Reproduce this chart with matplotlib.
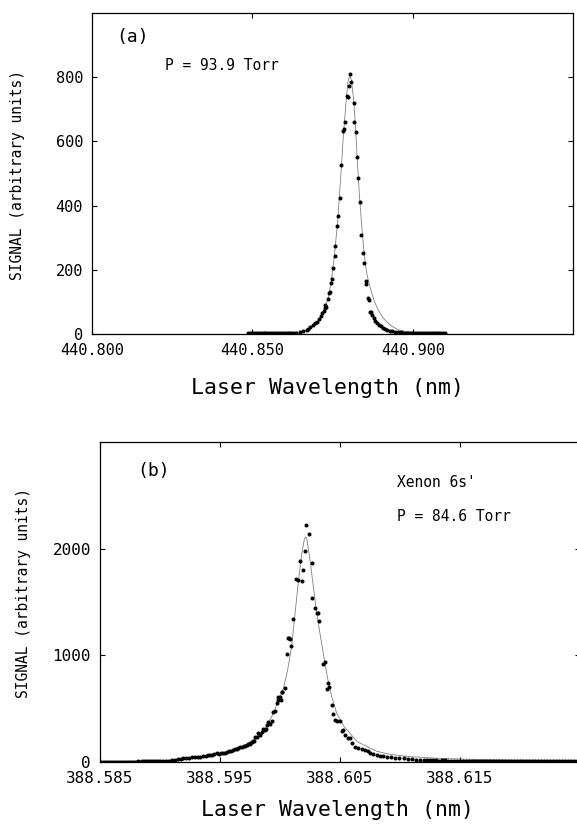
import matplotlib
matplotlib.use("Agg")
import matplotlib.pyplot as plt

# ---------------- Panel (a) data ----------------
a_wl = [440.8487, 440.8493, 440.8499, 440.8505, 440.8511, 440.8517, 440.8523, 440.8529,
        440.8535, 440.8541, 440.8547, 440.8553, 440.8559, 440.8565, 440.8571, 440.8577,
        440.8583, 440.8589, 440.8595, 440.8601, 440.8607, 440.8613, 440.8619, 440.8625,
        440.8631, 440.8637,
        440.8650, 440.8659, 440.8669, 440.8675, 440.8681, 440.8688, 440.8694, 440.8702,
        440.8708, 440.8713, 440.8718, 440.8722, 440.8726, 440.8728, 440.8731, 440.8737,
        440.8738, 440.8742, 440.8744, 440.8749, 440.8752, 440.8757, 440.8759, 440.8765,
        440.8766, 440.8772, 440.8775, 440.8783, 440.8786, 440.8788, 440.8796, 440.8798,
        440.8801, 440.8804, 440.8808, 440.8818, 440.8817, 440.8822, 440.8825, 440.8830,
        440.8835, 440.8838, 440.8845, 440.8849, 440.8853, 440.8855, 440.8862, 440.8864,
        440.8868, 440.8869, 440.8874, 440.8879, 440.8884, 440.8890, 440.8895, 440.8900,
        440.8906, 440.8913, 440.8921, 440.8928, 440.8936, 440.8944, 440.8953, 440.8963,
        440.8969, 440.8975, 440.8981, 440.8987, 440.8993, 440.8999, 440.9005, 440.9011,
        440.9017, 440.9023, 440.9029, 440.9035, 440.9041, 440.9047, 440.9053, 440.9059,
        440.9065, 440.9071, 440.9077, 440.9083, 440.9089, 440.9095, 440.9101]
a_sig = [3, 2, 3, 2, 2, 3, 2, 3, 2, 3, 3, 2, 3, 3, 2, 3, 3, 3, 2, 3, 3, 4, 3, 3, 4, 4,
         5, 8, 12, 17, 23, 28, 33, 38, 46, 55, 64, 72, 80, 90, 85, 108,
         127, 130, 158, 170, 207, 243, 275, 337, 369, 423, 525, 632, 640, 659, 741, 738,
         774, 810, 786, 719, 661, 630, 552, 485, 410, 309, 253, 220, 166, 155, 113, 106,
         69, 70, 58, 49, 40, 33, 28, 24, 20, 16, 12, 10, 8, 7, 6, 5,
         4, 4, 3, 4, 3, 3, 4, 3, 3, 3, 4, 3, 3, 3, 3, 4, 3, 3, 3, 3, 4, 3, 3]

a_fit_wl = [440.8487, 440.8572, 440.8619, 440.8650, 440.8669, 440.8681, 440.8694, 440.8706,
            440.8719, 440.8728, 440.8738, 440.8747, 440.8756, 440.8766, 440.8775, 440.8784,
            440.8792, 440.8798, 440.8804, 440.8809, 440.8816, 440.8822, 440.8828, 440.8834,
            440.8841, 440.8847, 440.8853, 440.8858, 440.8864, 440.8871, 440.8879, 440.8891,
            440.8905, 440.8919, 440.8937, 440.8956, 440.8983, 440.9025, 440.9103]
a_fit_sig = [2, 3, 4, 6, 11, 17, 27, 42, 63, 85, 118, 170, 245, 350, 480, 620,
             720, 785, 805, 790, 730, 640, 530, 430, 340, 270, 215, 183, 158, 132, 106, 78,
             54, 38, 23, 13, 7, 4, 2]

# ---------------- Panel (b) data ----------------
b_wl = [388.58500, 388.58517, 388.58533, 388.58550, 388.58567, 388.58583, 388.58600, 388.58617,
        388.58633, 388.58650, 388.58667, 388.58683, 388.58700, 388.58717, 388.58733, 388.58750,
        388.58767, 388.58783, 388.58800, 388.58817, 388.58833, 388.58850, 388.58867, 388.58883,
        388.58900, 388.58917, 388.58933, 388.58950, 388.58967, 388.58983, 388.59000,
        388.59025, 388.59050, 388.59075, 388.59100, 388.59125, 388.59150, 388.59175, 388.59194,
        388.59217, 388.59242, 388.59267, 388.59292, 388.59317, 388.59333, 388.59358, 388.59383,
        388.59400, 388.59417, 388.59433, 388.59450, 388.59472, 388.59492, 388.59508, 388.59525,
        388.59542, 388.59556, 388.59575, 388.59592, 388.59611, 388.59625, 388.59642, 388.59654,
        388.59667, 388.59683, 388.59696, 388.59708, 388.59722, 388.59733, 388.59746, 388.59754,
        388.59764, 388.59775, 388.59783, 388.59792, 388.59806, 388.59819, 388.59833, 388.59847,
        388.59861, 388.59871, 388.59883, 388.59889, 388.59903, 388.59917, 388.59936, 388.59944,
        388.59958, 388.59972, 388.59981, 388.59986, 388.60000, 388.60006, 388.60014, 388.60019,
        388.60039, 388.60056, 388.60064, 388.60075, 388.60083, 388.60094, 388.60111, 388.60133,
        388.60153, 388.60164, 388.60181, 388.60194, 388.60208, 388.60217, 388.60239, 388.60267,
        388.60270, 388.60294, 388.60306, 388.60319, 388.60328, 388.60361, 388.60375, 388.60389,
        388.60403, 388.60411, 388.60431, 388.60439, 388.60458, 388.60478, 388.60500, 388.60514,
        388.60521, 388.60542, 388.60564, 388.60583, 388.60597, 388.60625, 388.60653, 388.60681,
        388.60708, 388.60736, 388.60753, 388.60775, 388.60808, 388.60833, 388.60858, 388.60892,
        388.60925, 388.60958, 388.60992, 388.61031, 388.61067, 388.61100, 388.61133, 388.61169,
        388.61200, 388.61225, 388.61250, 388.61275, 388.61300, 388.61325, 388.61350, 388.61375,
        388.61400, 388.61425, 388.61450, 388.61475, 388.61500, 388.61525, 388.61550, 388.61575,
        388.61600, 388.61625, 388.61650, 388.61675, 388.61700, 388.61725, 388.61750, 388.61775,
        388.61800, 388.61825, 388.61850, 388.61875, 388.61900, 388.61925, 388.61950, 388.61975,
        388.62000, 388.62025, 388.62050, 388.62075, 388.62100, 388.62125, 388.62150, 388.62175,
        388.62200, 388.62225, 388.62250, 388.62275, 388.62300, 388.62325, 388.62350, 388.62375,
        388.62400, 388.62425, 388.62450, 388.62475]
b_sig = [3, 2, 3, 3, 2, 3, 2, 3, 3, 2, 3, 3, 4, 3, 3, 4, 3, 4, 4, 5, 4, 5, 5, 6, 5, 6, 7, 6, 7, 8, 8,
         10, 12, 14, 16, 20, 24, 29, 35,
         37, 40, 43, 46, 48, 50, 55, 60,
         62, 66, 64, 72, 81, 75, 80, 86,
         84, 90, 100, 104, 112, 118, 126, 130,
         137, 140, 148, 152, 159, 165, 172, 176,
         186, 195, 200, 237, 231, 268, 253, 284,
         305, 300, 309, 347, 378, 360, 384, 472,
         475, 550, 606, 581, 612, 581, 659, 656,
         697, 1009, 1159, 1165, 1153, 1091, 1344, 1713,
         1706, 1888, 1700, 1803, 1978, 2222, 2141, 1866,
         1541, 1447, 1394, 1394, 1322, 916, 941, 684,
         737, 706, 531, 447, 394, 387, 381, 294,
         300, 253, 222, 222, 175, 144, 130, 121,
         112, 100, 85, 78, 66, 60, 55, 50,
         45, 40, 38, 35, 30, 26, 22, 19,
         18, 16, 17, 15, 16, 14, 15, 15, 14, 13, 14, 13, 12, 13, 12, 12,
         11, 12, 11, 10, 11, 10, 11, 10, 9, 10, 9, 10, 9, 8, 9, 8,
         9, 8, 8, 7, 8, 7, 8, 7, 7, 8, 7, 7, 6, 7, 7, 6,
         7, 6, 6, 7]

b_fit_wl = [388.58500, 388.58750, 388.59000, 388.59192, 388.59333, 388.59475, 388.59608,
            388.59725, 388.59817, 388.59883, 388.59933, 388.59983, 388.60028, 388.60063,
            388.60098, 388.60125, 388.60153, 388.60181, 388.60203, 388.60213, 388.60223,
            388.60250, 388.60278, 388.60306, 388.60333, 388.60361, 388.60394, 388.60431,
            388.60473, 388.60529, 388.60596, 388.60642, 388.60742, 388.60808, 388.60917,
            388.61083, 388.61308, 388.61583, 388.61917, 388.62475]
b_fit_sig = [3, 6, 12, 28, 45, 72, 108, 155, 235, 330, 430, 560, 690, 860,
             1090, 1390, 1690, 1950, 2090, 2110, 2095, 1894, 1644, 1394, 1206, 1019, 800, 612,
             456, 340, 252, 192, 135, 100, 72, 50, 35, 25, 19, 16]

a_xticks = [440.800, 440.850, 440.900]
a_xticklabels = ["440.800", "440.850", "440.900"]
a_yticks = [0, 200, 400, 600, 800]
b_xticks = [388.585, 388.595, 388.605, 388.615]
b_xticklabels = ["388.585", "388.595", "388.605", "388.615"]
b_yticks = [0, 1000, 2000]

MONO = "DejaVu Sans Mono"
plt.rcParams["font.family"] = [MONO]

W, H = 577, 825
fig = plt.figure(figsize=(W / 100, H / 100), dpi=100)
fig.patch.set_facecolor("white")


def px_axes(left, top, right, bottom):
    return fig.add_axes([left / W, 1 - bottom / H, (right - left) / W, (bottom - top) / H])


def style(ax, fs):
    for s in ax.spines.values():
        s.set_linewidth(0.9)
        s.set_color("black")
    ax.tick_params(direction="in", length=3.5, width=0.8, top=True, right=True,
                   labelsize=fs, pad=6.5, colors="black")


# ---- (a)
ax1 = px_axes(92, 13, 573, 334)
ax1.plot(a_fit_wl, a_fit_sig, color="#808080", lw=0.6, zorder=2)
ax1.plot(a_wl, a_sig, linestyle="none", marker="o", ms=2.9, mew=0, color="black", zorder=3)
ax1.set_xlim(440.800, 440.950)
ax1.set_ylim(0, 1000)
ax1.set_xticks(a_xticks)
ax1.set_xticklabels(a_xticklabels)
ax1.set_yticks(a_yticks)
style(ax1, 11)
ax1.set_xlabel("Laser Wavelength (nm)", fontsize=15.5, va="center")
ax1.xaxis.set_label_coords(0.4906, -0.168)
ax1.set_ylabel("SIGNAL (arbitrary units)", fontsize=10.5, va="center")
ax1.yaxis.set_label_coords(-0.154, 0.495)
ax1.text(0.050, 0.925, "(a)", transform=ax1.transAxes, fontsize=13, ha="left", va="center")
ax1.text(0.152, 0.838, "P = 93.9 Torr", transform=ax1.transAxes, fontsize=10.5,
         ha="left", va="center")

# ---- (b)
ax2 = px_axes(100, 442, 580, 762)
ax2.plot(b_fit_wl, b_fit_sig, color="#808080", lw=0.6, zorder=2)
ax2.plot(b_wl, b_sig, linestyle="none", marker="o", ms=2.9, mew=0, color="black", zorder=3)
ax2.set_xlim(388.585, 388.625)
ax2.set_ylim(0, 3000)
ax2.set_xticks(b_xticks)
ax2.set_xticklabels(b_xticklabels)
ax2.set_yticks(b_yticks)
style(ax2, 11.5)
ax2.set_xlabel("Laser Wavelength (nm)", fontsize=15.5, va="center")
ax2.xaxis.set_label_coords(0.494, -0.150)
ax2.set_ylabel("SIGNAL (arbitrary units)", fontsize=10.5, va="center")
ax2.yaxis.set_label_coords(-0.160, 0.528)
ax2.text(0.077, 0.909, "(b)", transform=ax2.transAxes, fontsize=13, ha="left", va="center")
ax2.text(0.619, 0.872, "Xenon 6s'", transform=ax2.transAxes, fontsize=10.5,
         ha="left", va="center")
ax2.text(0.619, 0.766, "P = 84.6 Torr", transform=ax2.transAxes, fontsize=10.5,
         ha="left", va="center")

fig.savefig("out.png", dpi=100, facecolor="white")
